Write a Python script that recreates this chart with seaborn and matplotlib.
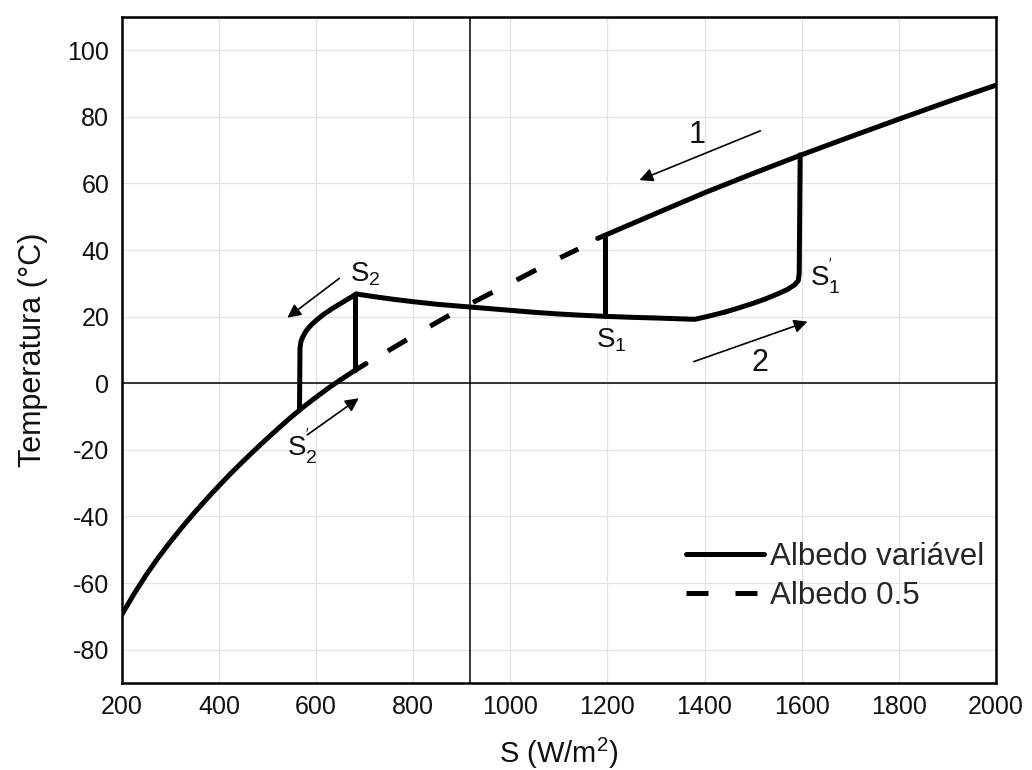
import matplotlib
matplotlib.use("Agg")
import matplotlib.pyplot as plt
from matplotlib.lines import Line2D
import numpy as np
import pandas as pd
import seaborn as sns

# ---------------- data ----------------
# lower (ice-covered) branch, solid
lower_S = [200, 225, 250, 275, 300, 325, 350, 375, 400, 425, 450, 475, 500,
           525, 550, 575, 600, 625, 650, 675, 703]
lower_T = [-69.5, -63.3, -57.6, -52.4, -47.6, -43.1, -38.8, -34.7, -30.8, -27.0,
           -23.4, -19.9, -16.5, -13.2, -10.0, -7.0, -4.2, -1.5, 1.0, 3.4, 5.9]

# left loop: vertical at S2' then curve up to S2
loop_S = [566, 567, 569, 573, 580, 590, 602, 615, 632, 650, 667, 683]
loop_T = [-7.5, 10.5, 12.6, 14.0, 15.8, 17.5, 19.1, 20.6, 22.3, 23.9, 25.4, 26.8]

# jump at S2 (vertical)
jump2_S = [681, 681]
jump2_T = [4.0, 26.8]

# middle branch from S2 to S1' and the vertical jump at S1'
mid_S = [683, 720, 760, 800, 850, 900, 950, 1000, 1050, 1100, 1150, 1195, 1250, 1300,
         1340, 1380, 1410, 1440, 1470, 1500, 1525, 1550, 1570, 1585, 1593, 1595, 1597]
mid_T = [26.8, 26.0, 25.2, 24.5, 23.7, 23.1, 22.5, 21.9, 21.3, 20.8, 20.4, 20.1, 19.8,
         19.6, 19.4, 19.2, 20.2, 21.3, 22.6, 24.0, 25.3, 26.8, 28.1, 29.5, 30.8, 33.0, 68.6]

# jump at S1 (vertical)
jump1_S = [1195, 1195]
jump1_T = [20.1, 44.5]

# upper (warm) branch
upper_S = [1180, 1300, 1400, 1500, 1600, 1700, 1800, 1900, 2000]
upper_T = [43.5, 51.0, 57.2, 63.0, 68.6, 74.0, 79.3, 84.5, 89.5]

# constant albedo 0.5 (dashed)
dash_S = [748, 800, 850, 900, 950, 1000, 1050, 1100, 1140]
dash_T = [9.7, 14.2, 18.4, 22.5, 26.3, 30.0, 33.8, 37.5, 40.3]

ref_S = 917   # thin vertical reference line
ref_T = 0     # thin horizontal reference line

x_ticks = [200, 400, 600, 800, 1000, 1200, 1400, 1600, 1800, 2000]
y_ticks = [-80, -60, -40, -20, 0, 20, 40, 60, 80, 100]

legend_labels = ["Albedo variável", "Albedo 0.5"]

# ---------------- build tables ----------------
segs = [("lower", lower_S, lower_T), ("loop", loop_S, loop_T),
        ("jump2", jump2_S, jump2_T), ("mid", mid_S, mid_T),
        ("jump1", jump1_S, jump1_T), ("upper", upper_S, upper_T)]
solid_df = pd.concat([pd.DataFrame({"S": s, "T": t, "seg": name}) for name, s, t in segs],
                     ignore_index=True)
dash_df = pd.DataFrame({"S": dash_S, "T": dash_T})

# ---------------- style ----------------
sns.set_theme(style="whitegrid")
plt.rcParams["font.family"] = ["Liberation Sans", "DejaVu Sans"]
plt.rcParams["mathtext.fontset"] = "custom"
plt.rcParams["mathtext.rm"] = "Liberation Sans"
plt.rcParams["mathtext.it"] = "Liberation Sans"
plt.rcParams["axes.unicode_minus"] = False

fig = plt.figure(figsize=(10.32, 7.70), dpi=100)
ax = fig.add_axes([0.118, 0.113, 0.847, 0.865])

LW = 3.6
sns.lineplot(data=solid_df, x="S", y="T", units="seg", estimator=None, sort=False,
             color="black", linewidth=LW, ax=ax, legend=False,
             solid_capstyle="round", solid_joinstyle="round")
sns.lineplot(data=dash_df, x="S", y="T", estimator=None, sort=False,
             color="black", linewidth=LW, ax=ax, legend=False,
             linestyle=(0, (4.4, 5.4)), dash_capstyle="butt")

ax.axvline(ref_S, color="black", lw=1.1, zorder=1)
ax.axhline(ref_T, color="black", lw=1.1, zorder=1)

ax.set_xlim(200, 2000)
ax.set_ylim(-90, 110)
ax.set_xticks(x_ticks)
ax.set_yticks(y_ticks)
ax.grid(True, color="#e3e3e3", lw=0.9)
for sp in ax.spines.values():
    sp.set_color("black")
    sp.set_linewidth(1.8)
ax.tick_params(axis="both", length=0, labelsize=18, colors="#111111")
ax.tick_params(axis="x", pad=9)
ax.tick_params(axis="y", pad=9)

ax.set_xlabel(r"S (W/m$^\mathregular{2}$)", fontsize=21, color="#111111", labelpad=12)
ax.set_ylabel("Temperatura (°C)", fontsize=22, color="#111111", labelpad=14)

# ---------------- annotations ----------------
arrow_kw = dict(arrowstyle="-|>", color="black", lw=1.2, mutation_scale=20,
                shrinkA=0, shrinkB=0)
ax.annotate("", xy=(1266, 61), xytext=(1515, 75.8), arrowprops=arrow_kw)
ax.annotate("", xy=(1612, 18.5), xytext=(1378, 6.5), arrowprops=arrow_kw)
ax.annotate("", xy=(541, 19.7), xytext=(648, 31.5), arrowprops=arrow_kw)
ax.annotate("", xy=(688, -4.5), xytext=(582, -15.5), arrowprops=arrow_kw)

ax.text(1384, 74.5, "1", fontsize=22, ha="center", va="center", color="#111111")
ax.text(1515, 6.0, "2", fontsize=22, ha="center", va="center", color="#111111")

lab_kw = dict(fontsize=20, ha="left", va="center", color="#111111")
ax.text(669, 32.8, r"S$_\mathregular{2}$", **lab_kw)
ax.text(540, -19.0, r"S$_\mathregular{2}^{\mathregular{'}}$", **lab_kw)
ax.text(1176, 12.8, r"S$_\mathregular{1}$", **lab_kw)
ax.text(1617, 31.8, r"S$_\mathregular{1}^{\mathregular{'}}$", **lab_kw)

handles = [Line2D([], [], color="black", lw=LW),
           Line2D([], [], color="black", lw=LW, linestyle=(0, (4.4, 5.4)))]
ax.legend(handles, legend_labels, loc="center left", bbox_to_anchor=(0.645, 0.16),
          frameon=False, fontsize=22.5, handlelength=2.5, handletextpad=0.2,
          borderpad=0, borderaxespad=0, labelspacing=0.3)

fig.savefig("out.png", dpi=100)
